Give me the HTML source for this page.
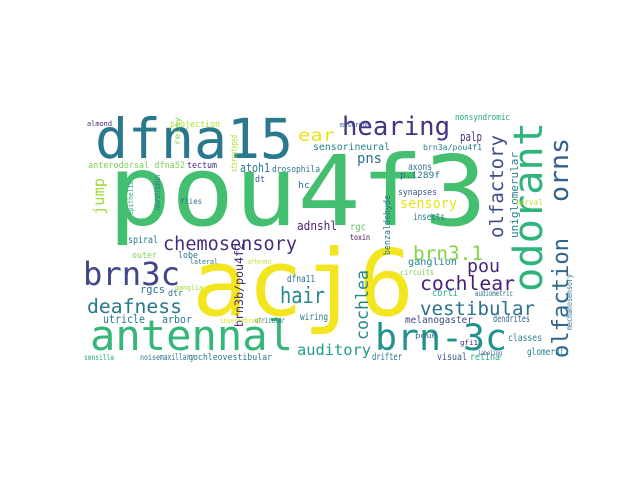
<!DOCTYPE html>
<html><head><meta charset="utf-8"><style>
html,body{margin:0;padding:0;background:#fff;width:640px;height:480px;overflow:hidden}
svg text{font-family:"DejaVu Sans Mono","Liberation Mono",monospace}
</style></head><body>
<svg id="cloud" width="640" height="480" viewBox="0 0 640 480" xmlns="http://www.w3.org/2000/svg">
<rect x="0" y="0" width="640" height="480" fill="#fff"/>
<g id="words"></g>
</svg>
<script>
// word, x, baseline y, font size, width, color, rotated(1 = vertical)
const words = ["pou4f3","acj6","dfna15","antennal","brn-3c","brn3c","odorant","hearing","chemosensory","olfaction","olfactory","orns","deafness","hair","vestibular","cochlear","brn3.1","pou","cochlea","auditory","sensory","ear","jump","pns","brn3b/pou4f2","uniglomerular","sensorineural","atoh1","palp","utricle","arbor","adnshl","rgcs","nonsyndromic","brn3a/pou4f1","synapses","insects","ganglion","melanogaster","dendrites","classes","glomeruli","cochleovestibular","anterodorsal dfna52","tectum","drosophila","projection","almond","stereotyped","benzaldehyde","spiral","outer","lobe","dt","hc","axons","p.1289f","rgc","toxin","corti","audiometric","dfna11","wiring","retina","drifter","visual","sensilla","noise","maxillary","relay","mushroom","epithelia","neurotrophin","flies","ganglia","lateral","afferent","utricular","invertebrate","labeling","gfi1","mechanosensory","larval","circuits","pou6","dtr"];
const xs = [108,192,95,90,375,83,542,342,163,568,503,568,87,280,420,420,413,467,368,297,400,298,104,357,243,518,313,240,460,103,162,297,140,455,423,398,413,408,405,493,508,527,188,88,187,272,170,87,237,390,128,132,178,255,298,408,400,350,350,432,475,287,300,470,372,437,84,140,160,180,340,133,160,180,175,190,248,255,220,478,460,572,515,400,415,168];
const ys = [225,315,158,350,350,285,292,135,250,358,238,202,313,303,315,290,260,272,340,355,208,141,215,163,327,238,150,172,141,323,323,230,293,120,150,195,220,265,323,322,341,355,360,168,168,172,127,126,172,255,243,258,258,182,188,170,178,230,240,296,296,282,320,360,360,360,360,360,360,145,127,215,210,204,290,264,264,323,323,355,345,330,205,275,338,296];
const fs = [97,92,55,42,36.5,32,40,25.5,18.5,22,19,26,19.7,22,19,19.7,19.4,18,16.6,15.4,14,17,15.4,14,11.6,11,10,12,12,11.5,11,12,11,9,8,9,9.5,10,9.5,10,10,10,8.5,8.5,9,8.5,8.5,7,9,9,10,9,9,9,9,9.5,9,10,8,10,8,10,10,10,10,10,8,8,9,8,7,7,8,8,7,7,7,8,7,6,7,8,8,8,7,9];
const ws = [379,222,198,203,132,97,170,108,134,120,103,64,95,45,115,95,70,33,70,74,57,37,37,25,84,86,77,30,22,42,30,40,25,55,59,39,32,49,68,37,34,42,84,97,30,48,50,25,37,60,30,25,20,10,12,24,40,16,20,26,38,28,28,30,30,30,30,20,34,28,30,34,35,22,28,28,24,30,42,24,18,56,28,34,22,15];
const cols = ["#44bf70","#f3e51e","#2a788e","#35b779","#21918c","#404688","#2fb47c","#46327e","#472d7b","#31668e","#3e4c8a","#33638d","#2a788e","#23898e","#2c728e","#482173","#86d549","#482878","#24868e","#1f9e89","#e5e419","#e7e419","#a0da39","#2c728e","#482878","#26828e","#26828e","#2a788e","#472d7b","#2a788e","#2a788e","#481f70","#2c728e","#22a884","#26828e","#3b528b","#2a788e","#26828e","#3e4989","#31688e","#287c8e","#26828e","#2a788e","#7ad151","#472d7b","#2a788e","#b5de2b","#482878","#addc30","#2a788e","#2c728e","#7ad151","#2c728e","#3b528b","#2c728e","#2c728e","#2c728e","#5ec962","#440154","#22a884","#2c728e","#2c728e","#2c728e","#22a884","#2c728e","#3b528b","#22a884","#2c728e","#2c728e","#7ad151","#3b528b","#22a884","#2c728e","#2c728e","#a0da39","#2c728e","#bddf26","#2c728e","#dde318","#3b528b","#482878","#2c728e","#c2df23","#7ad151","#2c728e","#2c728e"];
const rot = [0,0,0,0,0,0,1,0,0,1,1,1,0,0,0,0,0,0,1,0,0,0,1,0,1,1,0,0,0,0,0,0,0,0,0,0,0,0,0,0,0,0,0,0,0,0,0,0,1,1,0,0,0,0,0,0,0,0,0,0,0,0,0,0,0,0,0,0,0,1,0,1,1,0,0,0,0,0,0,0,0,1,0,0,0,0];
const g = document.getElementById('words');
const NS = "http://www.w3.org/2000/svg";
for (let i = 0; i < words.length; i++) {
  const t = document.createElementNS(NS, 'text');
  t.textContent = words[i];
  t.setAttribute('font-size', fs[i]);
  t.setAttribute('fill', cols[i]);
  t.setAttribute('textLength', ws[i]);
  t.setAttribute('lengthAdjust', 'spacingAndGlyphs');
  if (rot[i]) {
    t.setAttribute('transform', 'translate(' + xs[i] + ',' + ys[i] + ') rotate(-90)');
  } else {
    t.setAttribute('x', xs[i]);
    t.setAttribute('y', ys[i]);
  }
  
  
  g.appendChild(t);
}
</script>
</body></html>
